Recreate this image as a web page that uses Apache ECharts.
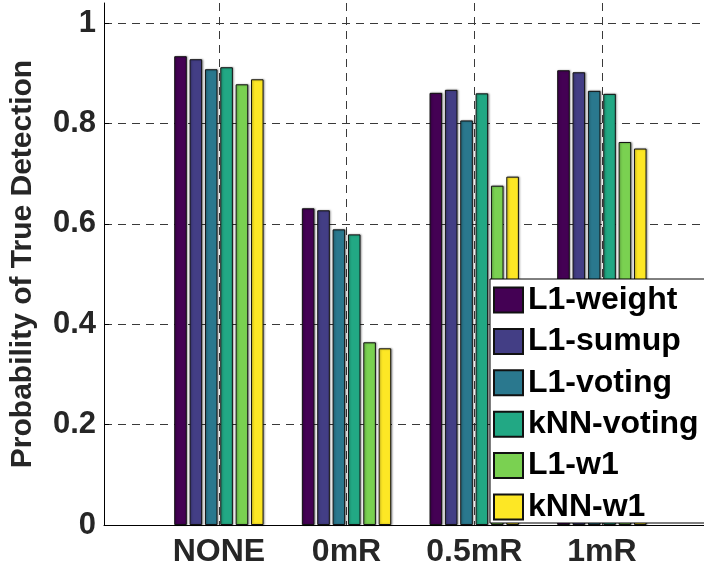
<!DOCTYPE html>
<html><head><meta charset="utf-8">
<script src="https://cdn.jsdelivr.net/npm/echarts@6/dist/echarts.min.js"></script>
<style>html,body{margin:0;padding:0;background:#fff}#c{width:704px;height:573px}</style>
</head><body><div id="c"></div>
<script>
const categories = ['NONE', '0mR', '0.5mR', '1mR'];
const seriesNames = ['L1-weight', 'L1-sumup', 'L1-voting', 'kNN-voting', 'L1-w1', 'kNN-w1'];
const L1weight  = [0.934, 0.631, 0.861, 0.906];
const L1sumup   = [0.928, 0.627, 0.867, 0.902];
const L1voting  = [0.908, 0.589, 0.806, 0.865];
const kNNvoting = [0.912, 0.579, 0.860, 0.859];
const L1w1      = [0.878, 0.364, 0.676, 0.763];
const kNNw1     = [0.888, 0.352, 0.694, 0.750];
const yTicks = [0, 0.2, 0.4, 0.6, 0.8, 1];
const colors = ['#440154', '#433e85', '#2a788e', '#22a884', '#7ad151', '#fde725'];

const allVals = [L1weight, L1sumup, L1voting, kNNvoting, L1w1, kNNw1];
const catPos = categories.map((c, i) => i + 1);
const FONT = 'Liberation Sans, Arial, sans-serif';

const series = allVals.map((vals, k) => ({
  name: seriesNames[k],
  type: 'bar',
  data: vals.map((v, i) => [catPos[i], v]),
  barCategoryGap: '30%',
  barGap: '22%',
  itemStyle: {
    color: colors[k], borderColor: '#111', borderWidth: 1,
    shadowColor: 'rgba(0,0,0,0.35)', shadowBlur: 2, shadowOffsetX: 1
  }
}));

const chart = echarts.init(document.getElementById('c'), null, {renderer: 'canvas'});
chart.setOption({
  animation: false,
  backgroundColor: '#fff',
  color: colors,
  grid: {left: 102, right: 0, top: 3, bottom: 48, containLabel: false},
  xAxis: {
    type: 'value', min: 0.1, max: 4.8,
    axisLine: {show: true, onZero: false, lineStyle: {color: '#000', width: 1}},
    axisTick: {show: false, customValues: catPos},
    axisLabel: {
      customValues: catPos,
      formatter: v => categories[Math.round(v) - 1] || '',
      fontFamily: FONT, fontWeight: 'bold', fontSize: 32, color: '#262626', margin: 11
    },
    splitLine: {show: true, lineStyle: {color: '#3a3a3a', type: [8, 6], width: 1}}
  },
  yAxis: {
    type: 'value', min: 0, max: 1.04,
    name: 'Probability of True Detection',
    nameLocation: 'middle', nameRotate: 90, nameGap: 66,
    nameTextStyle: {fontFamily: FONT, fontWeight: 'bold', fontSize: 30, color: '#262626'},
    axisLine: {show: true, lineStyle: {color: '#000', width: 1}},
    axisTick: {show: true, inside: true, length: 5, customValues: yTicks, lineStyle: {color: '#000'}},
    axisLabel: {
      customValues: yTicks,
      formatter: v => String(Math.round(v * 10) / 10),
      fontFamily: FONT, fontWeight: 'bold', fontSize: 31, color: '#262626', margin: 8
    },
    splitLine: {show: true, lineStyle: {color: '#3a3a3a', type: [8, 6], width: 1}}
  },
  legend: {
    orient: 'vertical', left: 490, top: 279,
    data: seriesNames,
    backgroundColor: '#fff', borderColor: '#000', borderWidth: 1,
    padding: [5, 40, 0, 3],
    itemWidth: 29, itemHeight: 25, itemGap: 9.4,
    icon: 'rect',
    textStyle: {fontFamily: FONT, fontWeight: 'bold', fontSize: 32, color: '#000', lineHeight: 31, padding: [0, 0, 0, 0]}
  },
  series: series
});
</script></body></html>
